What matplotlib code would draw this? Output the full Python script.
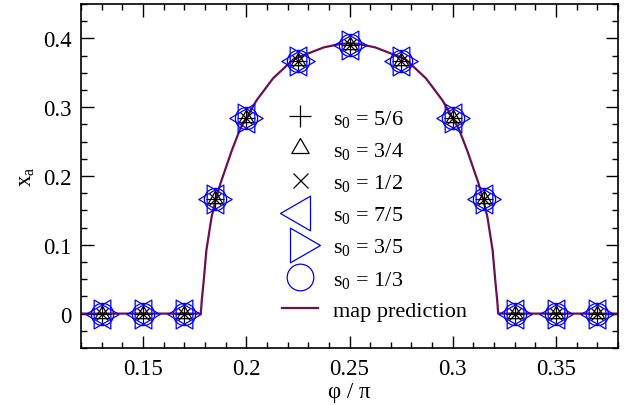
import matplotlib
matplotlib.use("Agg")
import matplotlib.pyplot as plt
from matplotlib.path import Path

plt.rcParams['font.family'] = ['Liberation Serif', 'DejaVu Serif']
plt.rcParams['mathtext.fontset'] = 'custom'
plt.rcParams['mathtext.rm'] = 'Liberation Serif'
plt.rcParams['mathtext.it'] = 'Liberation Serif'

# simulation points, phi / pi and x_a (all initial s0 land on the same values)
phi_sim = [0.13, 0.15, 0.17, 0.185, 0.2, 0.225, 0.25, 0.275, 0.3, 0.315, 0.33, 0.35, 0.37]
xa_sim = [0.0, 0.0, 0.0, 0.166, 0.284, 0.367, 0.391, 0.367, 0.284, 0.166, 0.0, 0.0, 0.0]

# map prediction curve
phi_map = [0.12, 0.178, 0.1785, 0.1793, 0.1807, 0.1832, 0.185, 0.1875, 0.193, 0.197,
           0.2, 0.205, 0.213, 0.223, 0.2376, 0.2457, 0.25,
           0.2543, 0.2624, 0.277, 0.287, 0.295, 0.3, 0.303, 0.307, 0.3125,
           0.315, 0.3168, 0.3193, 0.3207, 0.3215, 0.322, 0.38]
xa_map = [0.0, 0.0, 0.02, 0.044, 0.092, 0.14, 0.163, 0.189, 0.237, 0.268,
          0.284, 0.31, 0.342, 0.37, 0.387, 0.392, 0.393,
          0.392, 0.387, 0.37, 0.342, 0.31, 0.284, 0.268, 0.237, 0.189,
          0.163, 0.14, 0.092, 0.044, 0.02, 0.0, 0.0]

s0_labels = ['5/6', '3/4', '1/2', '7/5', '3/5', '1/3']

# triangles centred on their centroid (grace style)
tri_left = Path([(-1, 0), (0.5, 0.866), (0.5, -0.866), (-1, 0)], closed=True)
tri_right = Path([(1, 0), (-0.5, 0.866), (-0.5, -0.866), (1, 0)], closed=True)
tri_up = Path([(0, 1), (-0.866, -0.5), (0.866, -0.5), (0, 1)], closed=True)

styles = [
    dict(marker='+', ms=13, color='black'),
    dict(marker=tri_up, ms=12, color='black'),
    dict(marker='x', ms=9, color='black'),
    dict(marker=tri_left, ms=24, color='blue'),
    dict(marker=tri_right, ms=24, color='blue'),
    dict(marker='o', ms=16, color='blue'),
]

fig = plt.figure(figsize=(6.35, 4.06), dpi=100)
ax = fig.add_axes([81 / 635, 1 - 349 / 406, (618 - 81) / 635, (349 - 5) / 406])

handles = []
for lab, st in zip(s0_labels, styles):
    h, = ax.plot(phi_sim, xa_sim, ls='none', marker=st['marker'], ms=st['ms'],
                 mfc='none', mec=st['color'], mew=0.9, zorder=3,
                 label='s$_0$ = ' + lab)
    handles.append(h)

line, = ax.plot(phi_map, xa_map, color='#6b1050', lw=1.6, zorder=2, label='map prediction')
handles.append(line)

ax.set_xlim(0.12, 0.38)
ax.set_ylim(-0.05, 0.45)
ax.set_xticks([0.15, 0.2, 0.25, 0.3, 0.35])
ax.set_xticklabels(['0.15', '0.2', '0.25', '0.3', '0.35'])
ax.set_xticks([0.12 + 0.01 * i for i in range(27)], minor=True)
ax.set_yticks([0, 0.1, 0.2, 0.3, 0.4])
ax.set_yticklabels(['0', '0.1', '0.2', '0.3', '0.4'])
ax.set_yticks([-0.05 + 0.025 * i for i in range(21)], minor=True)

ax.tick_params(which='both', direction='in', top=True, right=True, labelsize=16.5, width=1.0)
ax.tick_params(which='major', length=9, pad=7)
ax.tick_params(which='minor', length=4.5)
for sp in ax.spines.values():
    sp.set_linewidth(1.2)

ax.set_xlabel('φ / π', fontsize=16.5, labelpad=2)
ax.set_ylabel('x$_a$', fontsize=16.5, labelpad=4)

leg = ax.legend(handles=handles, loc='upper left', bbox_to_anchor=(0.354, 0.73),
                frameon=False, fontsize=16, markerscale=1.2, handlelength=1.6,
                handletextpad=0.7, labelspacing=0.5, borderpad=0)

fig.savefig('out.png', dpi=100)
